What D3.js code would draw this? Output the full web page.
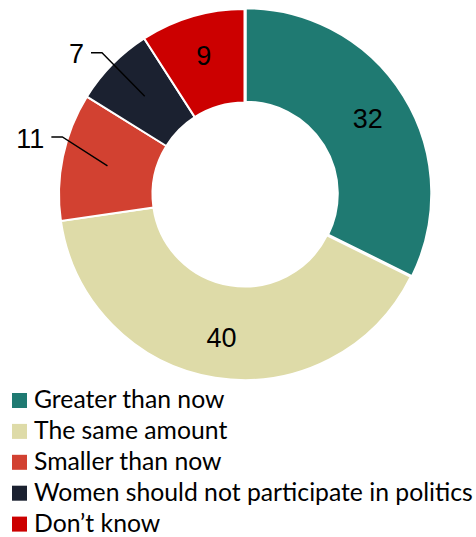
<!DOCTYPE html>
<html>
<head>
<meta charset="utf-8">
<script src="https://cdn.jsdelivr.net/npm/d3@7"></script>
<style>
  html, body { margin: 0; padding: 0; background: #fff; }
  svg { display: block; }
</style>
</head>
<body>
<svg id="chart" width="476" height="537"></svg>
<script>
// ---- Data ----
const categories = [
  "Greater than now",
  "The same amount",
  "Smaller than now",
  "Women should not participate in politics",
  "Don\u2019t know"
];
const values = [32, 40, 11, 7, 9];
const colors = ["#1f7a72", "#dedba8", "#d24131", "#1b2130", "#cc0000"];
const outsideLabelled = ["Smaller than now", "Women should not participate in politics"];
const exploded = ["Greater than now"];

// ---- Layout ----
const W = 476, H = 537;
const cx = 244.5, cy = 194.5;
const outerR = 185.5, innerR = 92;
const labelR = 145;

const svg = d3.select("#chart");
const data = categories.map((c, i) => ({ cat: c, value: values[i] }));

const color = d3.scaleOrdinal().domain(categories).range(colors);
const pie = d3.pie().sort(null).value(d => d.value).startAngle(0).endAngle(2 * Math.PI);
const arcs = pie(data);
const arc = d3.arc().innerRadius(innerR).outerRadius(outerR);
const labelArc = d3.arc().innerRadius(labelR).outerRadius(labelR);
const centroidArc = d3.arc().innerRadius(140).outerRadius(140);

const g = svg.append("g").attr("transform", `translate(${cx},${cy})`);

g.selectAll("path.slice")
  .data(arcs)
  .join("path")
  .attr("class", "slice")
  .attr("d", arc)
  .attr("fill", d => color(d.data.cat))
  .attr("stroke", "#fff")
  .attr("stroke-width", 2)
  .attr("transform", d => {
    if (!exploded.includes(d.data.cat)) return null;
    const a = (d.startAngle + d.endAngle) / 2;
    const off = 1.5;
    return `translate(${off * Math.sin(a)},${-off * Math.cos(a)})`;
  });

// inside labels
g.selectAll("text.inlabel")
  .data(arcs.filter(d => !outsideLabelled.includes(d.data.cat)))
  .join("text")
  .attr("class", "inlabel")
  .attr("transform", d => `translate(${labelArc.centroid(d)})`)
  .attr("text-anchor", "middle")
  .attr("dy", "0.36em")
  .attr("font-family", "Liberation Sans, Arial, sans-serif")
  .attr("font-size", 27)
  .attr("fill", "#000")
  .text(d => d.data.value);

// outside labels with leader lines
const leaderCfg = {
  "Smaller than now": { r: 191, da: 5.7 },
  "Women should not participate in politics": { r: 201, da: 0.3 }
};
const outs = arcs.filter(d => outsideLabelled.includes(d.data.cat));
outs.forEach(d => {
  const cfg = leaderCfg[d.data.cat];
  const mid = (d.startAngle + d.endAngle) / 2;
  const p0 = centroidArc.centroid(d);
  const ea = mid + cfg.da * Math.PI / 180;
  const p1 = [cfg.r * Math.sin(ea), -cfg.r * Math.cos(ea)];
  const p2 = [p1[0] - 11, p1[1]];
  g.append("polyline")
    .attr("points", [p0, p1, p2].map(p => p.join(",")).join(" "))
    .attr("fill", "none")
    .attr("stroke", "#000")
    .attr("stroke-width", 1.4);
  g.append("text")
    .attr("x", p2[0] - 7)
    .attr("y", p2[1] + 1)
    .attr("text-anchor", "end")
    .attr("dy", "0.36em")
    .attr("font-family", "Liberation Sans, Arial, sans-serif")
    .attr("font-size", 27)
    .attr("fill", "#000")
    .text(d.data.value);
});

// ---- Legend ----
const legendX = 12, legendTop = 393, rowH = 30.9, sw = 15;
const leg = svg.append("g").attr("class", "legend");
const rows = leg.selectAll("g.row")
  .data(categories)
  .join("g")
  .attr("class", "row")
  .attr("transform", (d, i) => `translate(${legendX},${legendTop + i * rowH})`);
rows.append("rect")
  .attr("width", sw).attr("height", sw)
  .attr("fill", d => color(d));
const texts = rows.append("text")
  .attr("x", 22)
  .attr("y", 15)
  .attr("font-family", "Lato, 'Open Sans', sans-serif")
  .attr("font-size", 21)
  .attr("fill", "#000")
  .text(d => d);
// fit font so that the longest entry spans the measured width
let maxW = 0;
texts.each(function () { maxW = Math.max(maxW, this.getComputedTextLength()); });
const target = 439;
const fs = 21 * target / maxW;
texts.attr("font-size", fs);
</script>
</body>
</html>
